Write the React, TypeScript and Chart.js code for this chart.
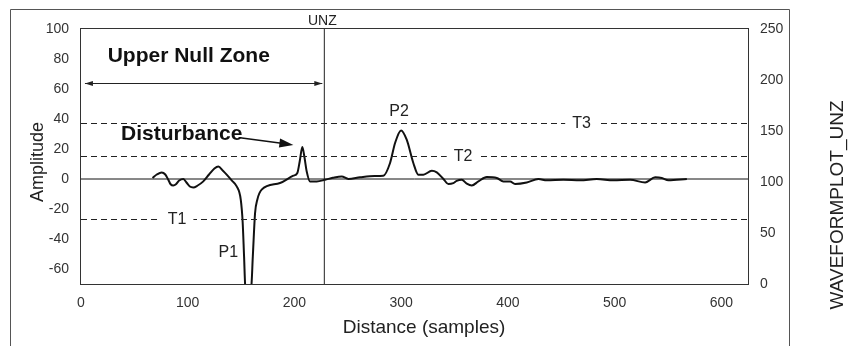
import React, { useEffect, useRef } from "react";
import { Chart, registerables } from "chart.js";

Chart.register(...registerables);

// ---- data ----
const waveX = [
  67, 71, 75.6, 79, 81.8, 84, 86.5, 89, 92, 95.9, 99, 102, 105.2, 109, 114.6, 120, 125, 128.7, 133, 136.5,
  141.2, 145.9, 149.7, 151.5, 152.8, 154, 156.5, 159.5, 161, 163.1, 165.2, 169.3, 186.5, 199, 202.7, 205,
  207.4, 209.5, 211.5, 214.6, 220.9, 228.7, 236, 244.3, 250.6, 261.5, 275, 283.3, 289.6, 294.3, 299.9,
  305.2, 311.4, 316.1, 320.8, 328.7, 333.4, 339.6, 344.2, 348.9, 352, 356.8, 361.5, 366.2, 372.4, 380.2,
  389.6, 395.8, 402.1, 406.7, 417.7, 428.6, 436.5, 452, 467.7, 483.3, 498.9, 514.5, 528.6, 538, 544.2,
  550.4, 567.7,
];
const waveY = [
  0.7, 3, 4.4, 3, -0.5, -3.5, -4.3, -3.5, -1, 0, -2.5, -5, -5.6, -4.5, -1.6, 3, 7, 8.4, 5.5, 2.9,
  -0.9, -4.9, -13.8, -29, -51.6, -72, -74, -72, -51.6, -22.7, -13.8, -7.1, -2.7, 2.2, 4, 12,
  21.3, 14, 5, -1.6, -1.6, -0.5, 0.8, 1.7, 0, 1.1, 2, 2.2, 10.7, 24, 32.4,
  26.2, 10.7, 2.9, 2.9, 5.5, 4.4, 0, -3.3, -2.7, -1.2, -0.5, -3.1, -4.3, -1.6, 1.3,
  0.7, -1.6, -1.6, -3.3, -2.3, 0, -0.9, -0.5, -0.9, 0, -0.9, -0.5, -2.3, 1.1, 0.7,
  -0.9, 0,
];

const thresholdNames = ["T1", "T2", "T3"];
const thresholdValues = [-27, 15, 37];
const thresholdLabelX = [90, 358, 469];

const peakNames = ["P1", "P2"];
const peakLabelX = [138, 298];
const peakLabelY = [-49.3, 44.7];

const unzPosition = 228;
const unzLabel = "UNZ";

const xTicks = [0, 100, 200, 300, 400, 500, 600];
const yTicks = [-60, -40, -20, 0, 20, 40, 60, 80, 100];
const y2Ticks = [0, 50, 100, 150, 200, 250];

const xTitle = "Distance (samples)";
const yTitle = "Amplitude";
const sideTitle = "WAVEFORMPLOT_UNZ";
const zoneText = "Upper Null Zone";
const disturbanceText = "Disturbance";

const FONT = '"Liberation Sans", Arial, Helvetica, sans-serif';

function arrowHead(ctx: CanvasRenderingContext2D, x1: number, y1: number, x2: number, y2: number, len: number, half: number) {
  const a = Math.atan2(y2 - y1, x2 - x1);
  const cx = Math.cos(a), sy = Math.sin(a);
  const bx = x2 - len * cx, by = y2 - len * sy;
  ctx.beginPath();
  ctx.moveTo(x2, y2);
  ctx.lineTo(bx - half * sy, by + half * cx);
  ctx.lineTo(bx + half * sy, by - half * cx);
  ctx.closePath();
  ctx.fill();
}

const decoPlugin = {
  id: "deco",
  beforeDraw(chart: any) {
    const ctx = chart.ctx as CanvasRenderingContext2D;
    ctx.save();
    ctx.fillStyle = "#fff";
    ctx.fillRect(0, 0, chart.width, chart.height);
    ctx.strokeStyle = "#555";
    ctx.lineWidth = 1;
    ctx.beginPath();
    ctx.moveTo(10.5, 360);
    ctx.lineTo(10.5, 9.5);
    ctx.lineTo(789.5, 9.5);
    ctx.lineTo(789.5, 360);
    ctx.stroke();
    ctx.restore();
  },
  afterDatasetsDraw(chart: any) {
    const ctx = chart.ctx as CanvasRenderingContext2D;
    const xs = chart.scales.x;
    const ys = chart.scales.y;
    const ca = chart.chartArea;
    ctx.save();
    // plot box
    ctx.strokeStyle = "#333";
    ctx.lineWidth = 1;
    ctx.strokeRect(ca.left - 0.5, ca.top - 0.5, ca.right - ca.left + 1, ca.bottom - ca.top + 1);

    ctx.fillStyle = "#222";
    ctx.textAlign = "center";
    ctx.textBaseline = "middle";
    ctx.font = `16px ${FONT}`;
    // threshold labels with white background
    thresholdNames.forEach((n, i) => {
      const px = xs.getPixelForValue(thresholdLabelX[i]);
      const py = ys.getPixelForValue(thresholdValues[i]);
      const w = ctx.measureText(n).width;
      ctx.fillStyle = "#fff";
      ctx.fillRect(px - w / 2 - 7, py - 3, w + 14, 6);
      ctx.fillStyle = "#222";
      ctx.fillText(n, px, py);
    });
    peakNames.forEach((n, i) => {
      ctx.fillText(n, xs.getPixelForValue(peakLabelX[i]), ys.getPixelForValue(peakLabelY[i]));
    });

    // UNZ label
    ctx.font = `14px ${FONT}`;
    ctx.fillText(unzLabel, xs.getPixelForValue(unzPosition) - 2, ca.top - 8);

    // Upper Null Zone
    ctx.font = `bold 21px ${FONT}`;
    ctx.textAlign = "left";
    ctx.textBaseline = "alphabetic";
    ctx.fillStyle = "#111";
    ctx.fillText(zoneText, xs.getPixelForValue(25), ys.getPixelForValue(78));
    // double arrow
    const ay = Math.round(ys.getPixelForValue(64)) + 0.5;
    const ax1 = xs.getPixelForValue(3.7);
    const ax2 = xs.getPixelForValue(unzPosition) - 2;
    ctx.strokeStyle = "#222";
    ctx.lineWidth = 1;
    ctx.beginPath();
    ctx.moveTo(ax1, ay);
    ctx.lineTo(ax2, ay);
    ctx.stroke();
    ctx.fillStyle = "#222";
    arrowHead(ctx, ax2, ay, ax1, ay, 8, 2.5);
    arrowHead(ctx, ax1, ay, ax2, ay, 8, 2.5);

    // Disturbance
    ctx.font = `bold 21px ${FONT}`;
    ctx.fillStyle = "#111";
    ctx.fillText(disturbanceText, xs.getPixelForValue(37.5), ys.getPixelForValue(26));
    const dx1 = xs.getPixelForValue(149), dy1 = ys.getPixelForValue(27.5);
    const dx2 = xs.getPixelForValue(199), dy2 = ys.getPixelForValue(22.7);
    ctx.lineWidth = 1.5;
    ctx.strokeStyle = "#111";
    ctx.beginPath();
    ctx.moveTo(dx1, dy1);
    ctx.lineTo(dx2 - 10, dy2 - 1.5);
    ctx.stroke();
    arrowHead(ctx, dx1, dy1, dx2, dy2, 14, 4.5);

    // axis titles
    ctx.fillStyle = "#222";
    ctx.textAlign = "center";
    ctx.textBaseline = "middle";
    ctx.font = `18px ${FONT}`;
    ctx.save();
    ctx.translate(38, 162);
    ctx.rotate(-Math.PI / 2);
    ctx.fillText(yTitle, 0, 0);
    ctx.restore();

    ctx.font = `19px ${FONT}`;
    ctx.textBaseline = "alphabetic";
    ctx.fillText(xTitle, 424, 333);
    ctx.textBaseline = "middle";

    ctx.save();
    ctx.translate(838, 205);
    ctx.rotate(-Math.PI / 2);
    ctx.fillText(sideTitle, 0, 0);
    ctx.restore();

    ctx.restore();
  },
};

export default function App() {
  const ref = useRef<HTMLCanvasElement | null>(null);
  useEffect(() => {
    if (!ref.current) return;
    const lineDs = (pts: { x: number; y: number }[], dash: number[], color = "#222", width = 1) => ({
      data: pts,
      borderColor: color,
      borderWidth: width,
      borderDash: dash,
      pointRadius: 0,
      fill: false,
      tension: 0,
    });
    const chart = new Chart(ref.current, {
      type: "line",
      data: {
        datasets: [
          ...thresholdValues.map((v) => lineDs([{ x: 0, y: v }, { x: 625, y: v }], [6, 4])),
          lineDs([{ x: 0, y: 0 }, { x: 625, y: 0 }], [], "#111", 1),
          lineDs([{ x: unzPosition, y: -70 }, { x: unzPosition, y: 100 }], [], "#222", 1),
          {
            data: waveX.map((x, i) => ({ x, y: waveY[i] })),
            borderColor: "#111",
            borderWidth: 2,
            pointRadius: 0,
            fill: false,
            cubicInterpolationMode: "monotone",
          } as any,
        ],
      },
      options: {
        animation: false,
        responsive: false,
        devicePixelRatio: 1,
        layout: { padding: { top: 29, left: 0, right: 0, bottom: 0 } },
        plugins: { legend: { display: false }, tooltip: { enabled: false } },
        scales: {
          x: {
            type: "linear",
            min: 0,
            max: 625,
            grid: { display: false },
            border: { display: false },
            afterBuildTicks: (s: any) => {
              s.ticks = xTicks.map((v) => ({ value: v }));
            },
            afterFit: (s: any) => {
              s.height = 62;
            },
            ticks: { color: "#333", font: { family: FONT, size: 14 }, padding: 3, maxRotation: 0 },
          },
          y: {
            type: "linear",
            position: "left",
            min: -70,
            max: 100,
            grid: { display: false },
            border: { display: false },
            afterBuildTicks: (s: any) => {
              s.ticks = yTicks.map((v) => ({ value: v }));
            },
            afterFit: (s: any) => {
              s.width = 81;
            },
            ticks: { color: "#333", font: { family: FONT, size: 14 }, padding: 4 },
          },
          y2: {
            type: "linear",
            position: "right",
            min: 0,
            max: 250,
            grid: { display: false },
            border: { display: false },
            afterBuildTicks: (s: any) => {
              s.ticks = y2Ticks.map((v) => ({ value: v }));
            },
            afterFit: (s: any) => {
              s.width = 105;
            },
            ticks: { color: "#333", font: { family: FONT, size: 14 }, padding: 4 },
          },
        },
      } as any,
      plugins: [decoPlugin],
    });
    return () => chart.destroy();
  }, []);
  return (
    <div style={{ position: "fixed", left: 0, top: 0, width: 853, height: 346 }}>
      <canvas ref={ref} width={853} height={346} style={{ width: 853, height: 346, display: "block" }} />
    </div>
  );
}
